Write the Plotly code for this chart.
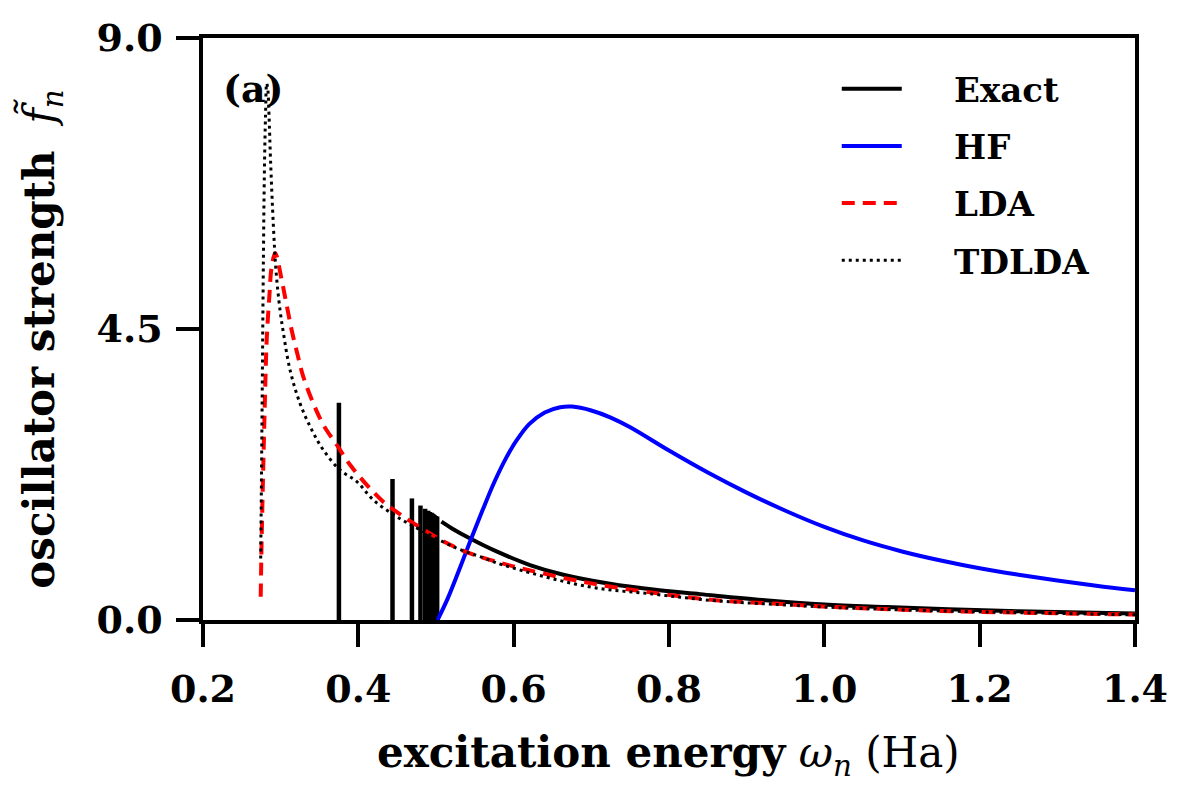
import plotly.graph_objects as go

# ---- data ----
stick_x = [0.375, 0.444, 0.469, 0.480, 0.486, 0.490, 0.492, 0.494, 0.495, 0.496,
           0.4965, 0.497, 0.4975, 0.498, 0.4983, 0.4986, 0.4988, 0.499, 0.4992,
           0.4994, 0.4996, 0.4998, 0.500, 0.5015]
stick_h = [3.36, 2.18, 1.88, 1.77, 1.72, 1.69, 1.67, 1.66, 1.65, 1.64,
           1.63, 1.63, 1.62, 1.62, 1.61, 1.61, 1.61, 1.60, 1.60,
           1.60, 1.60, 1.60, 1.60, 1.60]

exact_x = [0.507, 0.52, 0.544, 0.578, 0.621, 0.664, 0.724, 0.78, 0.84, 0.92,
           1.0, 1.08, 1.16, 1.25, 1.33, 1.4]
exact_y = [1.52, 1.42, 1.26, 1.06, 0.85, 0.70, 0.56, 0.47, 0.40, 0.31,
           0.24, 0.20, 0.165, 0.135, 0.115, 0.10]

hf_x = [0.502, 0.515, 0.53, 0.545, 0.56, 0.575, 0.59, 0.605, 0.62, 0.64,
        0.66, 0.675, 0.70, 0.725, 0.75, 0.80, 0.85, 0.90, 0.95, 1.00, 1.05,
        1.10, 1.15, 1.20, 1.25, 1.30, 1.35, 1.40]
hf_y = [0.0, 0.33, 0.78, 1.25, 1.70, 2.13, 2.50, 2.80, 3.03, 3.21,
        3.29, 3.30, 3.24, 3.13, 2.98, 2.62, 2.28, 1.97, 1.69, 1.44, 1.23,
        1.06, 0.92, 0.80, 0.70, 0.61, 0.53, 0.46]

lda_x = [0.2743, 0.2755, 0.2777, 0.2798, 0.282, 0.2854, 0.2884, 0.293, 0.3013,
         0.3077, 0.3142, 0.3214, 0.3292, 0.342, 0.3549, 0.3721, 0.3893, 0.4108,
         0.4321, 0.4579, 0.488, 0.5138, 0.5438, 0.578, 0.62, 0.698, 0.78, 0.857,
         0.94, 1.02, 1.149, 1.27, 1.376, 1.4]
lda_y = [0.36, 1.24, 2.42, 3.45, 4.33, 5.0, 5.46, 5.67, 5.26,
         4.87, 4.48, 4.12, 3.76, 3.35, 3.02, 2.71, 2.40, 2.09,
         1.83, 1.60, 1.37, 1.19, 1.03, 0.90, 0.77, 0.57, 0.42, 0.31,
         0.25, 0.196, 0.14, 0.11, 0.088, 0.085]

tdlda_x = [0.2743, 0.2755, 0.2766, 0.2777, 0.2790, 0.2805, 0.282, 0.2835, 0.285,
           0.287, 0.2906, 0.294, 0.2991, 0.3034, 0.312, 0.3249, 0.34, 0.3549,
           0.3764, 0.398, 0.419, 0.449, 0.4836, 0.5266, 0.5566, 0.5866, 0.694,
           0.78, 0.857, 0.94, 1.02, 1.15, 1.27, 1.4]
tdlda_y = [0.95, 2.5, 4.0, 5.5, 6.9, 7.8, 8.3, 8.2, 7.8,
           7.1, 6.1, 5.4, 4.8, 4.45, 3.87, 3.35, 2.94, 2.63,
           2.32, 2.14, 1.86, 1.60, 1.37, 1.11, 0.98, 0.85, 0.52,
           0.40, 0.30, 0.24, 0.19, 0.14, 0.11, 0.08]

x_ticks = [0.2, 0.4, 0.6, 0.8, 1.0, 1.2, 1.4]
y_ticks = [0.0, 4.5, 9.0]

FONT = "DejaVu Serif"
PAD = "\u00a0" * 4

# sticks as one path with gaps
sx, sy = [], []
for xv, hv in zip(stick_x, stick_h):
    sx += [xv, xv, None]
    sy += [0, hv, None]

fig = go.Figure()
fig.add_trace(go.Scatter(x=sx, y=sy, mode="lines", line=dict(color="black", width=4.5),
                         showlegend=False, hoverinfo="skip", legendgroup="e"))
fig.add_trace(go.Scatter(x=exact_x, y=exact_y, mode="lines", name=PAD + "Exact",
                         line=dict(color="black", width=4, shape="spline"), legendgroup="e"))
fig.add_trace(go.Scatter(x=hf_x, y=hf_y, mode="lines", name=PAD + "HF",
                         line=dict(color="blue", width=4, shape="spline"), legendgroup="h"))
fig.add_trace(go.Scatter(x=lda_x, y=lda_y, mode="lines", name=PAD + "LDA",
                         line=dict(color="red", width=4, dash="13px,8px", shape="spline"),
                         legendgroup="l"))
fig.add_trace(go.Scatter(x=tdlda_x, y=tdlda_y, mode="lines", name=PAD + "TDLDA",
                         line=dict(color="black", width=3, dash="3px,4px", shape="spline"),
                         legendgroup="t"))

axis_common = dict(
    showline=True, linewidth=3.5, linecolor="black", mirror=True,
    ticks="outside", ticklen=23, tickwidth=3.5, tickcolor="black",
    showgrid=False, zeroline=False,
    tickfont=dict(family=FONT, size=38, color="black", weight="bold"),
)

fig.update_xaxes(range=[0.2, 1.4], tickvals=x_ticks,
                 ticktext=[f"{v:.1f}" for v in x_ticks], ticklabelstandoff=10,
                 **axis_common)
fig.update_yaxes(range=[0, 9], tickvals=y_ticks,
                 ticktext=[f"{v:.1f}" for v in y_ticks], ticklabelstandoff=6,
                 **axis_common)

fig.update_layout(
    width=1182, height=799,
    margin=dict(l=203, r=47, t=38, b=179),
    paper_bgcolor="white", plot_bgcolor="white",
    font=dict(family=FONT, color="black"),
    legend=dict(x=0.68, y=0.962, xanchor="left", yanchor="top",
                font=dict(family=FONT, size=34, color="black", weight="bold"),
                bgcolor="rgba(0,0,0,0)", itemwidth=60, tracegroupgap=10),
    annotations=[
        dict(text="<b>excitation energy</b> <i>ω</i><sub><i>n</i></sub> (Ha)",
             xref="paper", yref="paper", x=0.499, y=-0.232, xanchor="center",
             yanchor="middle", showarrow=False,
             font=dict(family=FONT, size=42, color="black")),
        dict(text="<b>oscillator strength</b>  <i>f̃</i><sub><i>n</i></sub>",
             xref="paper", yref="paper", x=-0.173, y=0.483, xanchor="center",
             yanchor="middle", textangle=-90, showarrow=False,
             font=dict(family=FONT, size=42, color="black")),
        dict(text="<b>(a)</b>", xref="paper", yref="paper", x=0.019, y=0.914,
             xanchor="left", yanchor="middle", showarrow=False,
             font=dict(family=FONT, size=38, color="black")),
    ],
)

fig.write_html("out.html")
